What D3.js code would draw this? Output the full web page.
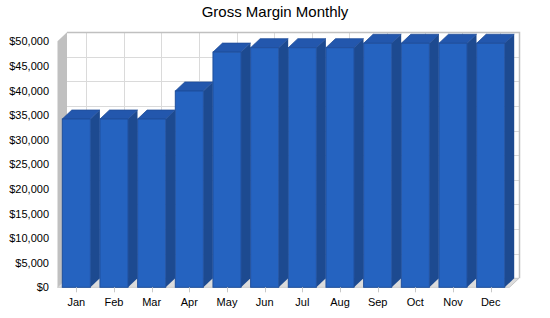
<!DOCTYPE html>
<html><head><meta charset="utf-8">
<script src="https://cdn.jsdelivr.net/npm/d3@7/dist/d3.min.js"></script>
<style>body{margin:0;background:#fff}svg{display:block}text{font-family:"Liberation Sans",Arial,sans-serif}</style>
</head><body>
<svg id="c" width="550" height="318"></svg>
<script>
const title = "Gross Margin Monthly";
const months = ["Jan","Feb","Mar","Apr","May","Jun","Jul","Aug","Sep","Oct","Nov","Dec"];
const grossMargin = [34200,34200,34200,39900,47800,48700,48700,48700,49600,49600,49600,49600];
const yTicks = [0,5000,10000,15000,20000,25000,30000,35000,40000,45000,50000];

const svg = d3.select("#c");
const DX = 9.5, DY = 9;
const x = d3.scaleBand().domain(months).range([57.5, 509.5]).paddingInner(0.255).paddingOuter(0.1275);
const y = d3.scaleLinear().domain([0, 50000]).range([287.3, 41.3]);
const x0 = 57.5, x1 = 509.5, yb = y(0), yt = y(50000);

// back wall
svg.append("rect").attr("x", x0+DX).attr("y", yt-DY).attr("width", x1-x0).attr("height", yb-yt).attr("fill", "#fff");
// gridlines
const g = svg.append("g");
g.selectAll("line.h").data(yTicks).join("line").attr("class","h")
  .attr("x1", x0+DX).attr("x2", x1+DX).attr("y1", d => Math.round(y(d)-DY)+0.5).attr("y2", d => Math.round(y(d)-DY)+0.5)
  .attr("stroke", "#dadada").attr("stroke-width", 1);
g.selectAll("line.v").data(months).join("line").attr("class","v")
  .attr("x1", d => Math.round(x(d)+x.bandwidth()/2+DX)+0.5).attr("x2", d => Math.round(x(d)+x.bandwidth()/2+DX)+0.5)
  .attr("y1", yt-DY).attr("y2", yb-DY).attr("stroke", "#dadada");
// back wall border (top and right)
svg.append("path").attr("d", `M${x0+DX},${Math.round(yt-DY)+0.5}H${x1+DX+0.5}V${yb-DY}`)
  .attr("fill", "none").attr("stroke", "#c0c0c0").attr("stroke-width", 1.5);
// left wall
svg.append("path").attr("d", `M${x0},${yb}L${x0},${yt}L${x0+DX},${yt-DY}L${x0+DX},${yb-DY}Z`).attr("fill", "#c0c0c0");
// floor
svg.append("path").attr("d", `M${x0},${yb}L${x1},${yb}L${x1+DX},${yb-DY}L${x0+DX},${yb-DY}Z`)
  .attr("fill", "#dcdcdc").attr("stroke", "#c8c8c8").attr("stroke-width", 1);

// bars
const bars = svg.append("g").selectAll("g").data(months.map((m,i) => ({m, v: grossMargin[i]}))).join("g");
const bw = x.bandwidth();
bars.append("path").attr("d", d => {
  const a = x(d.m), b = a + bw, t = y(d.v);
  return `M${b},${t}L${b+DX},${t-DY}L${b+DX},${yb-DY}L${b},${yb}Z`;
}).attr("fill", "#1d4a90");
bars.append("path").attr("d", d => {
  const a = x(d.m), b = a + bw, t = y(d.v);
  return `M${a},${t}L${a+DX},${t-DY}L${b+DX},${t-DY}L${b},${t}Z`;
}).attr("fill", "#2357ad").attr("stroke", "#1f4d98").attr("stroke-width", 0.8);
bars.append("rect").attr("x", d => x(d.m)).attr("y", d => y(d.v)).attr("width", bw).attr("height", d => yb - y(d.v))
  .attr("fill", "#2563c0").attr("stroke", "#1f4f9c").attr("stroke-width", 1);

// x ticks
svg.append("g").selectAll("line").data(months).join("line")
  .attr("x1", d => Math.round(x(d)+bw/2)+0.5).attr("x2", d => Math.round(x(d)+bw/2)+0.5)
  .attr("y1", yb).attr("y2", yb+5).attr("stroke", "#c8c8c8");
// x labels
svg.append("g").selectAll("text").data(months).join("text")
  .attr("x", d => x(d)+bw/2).attr("y", 306).attr("text-anchor", "middle").attr("font-size", 11).attr("fill", "#000").text(d => d);
// y labels
const fmt = d3.format("$,");
svg.append("g").selectAll("text").data(yTicks).join("text")
  .attr("x", 49).attr("y", d => y(d)+4).attr("text-anchor", "end").attr("font-size", 11).attr("fill", "#000").text(d => fmt(d));
// title
svg.append("text").attr("x", 275).attr("y", 17).attr("text-anchor", "middle").attr("font-size", 15).attr("fill", "#000").text(title);
</script>
</body></html>
